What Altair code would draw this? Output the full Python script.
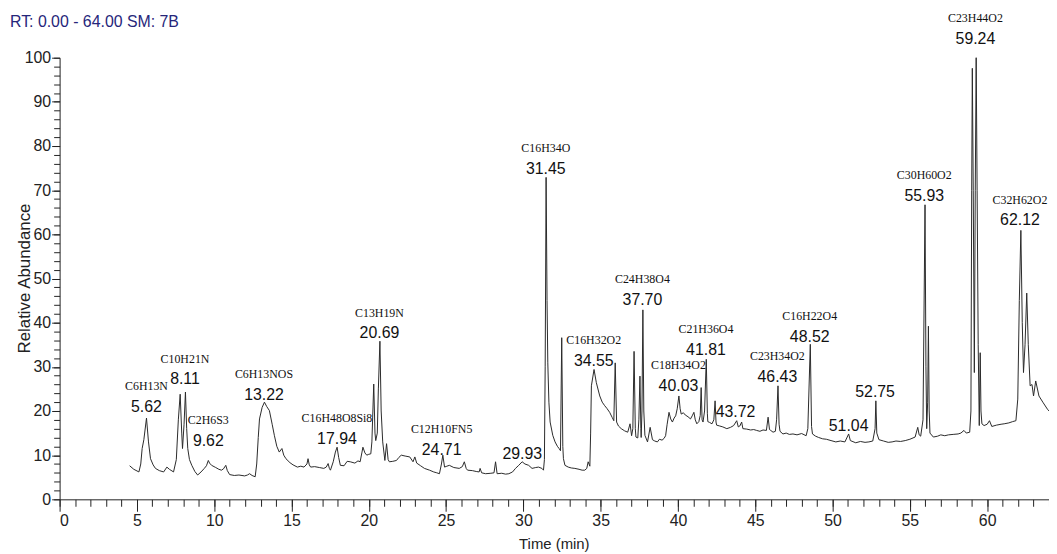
import altair as alt
import pandas as pd

# ---- chromatogram trace (retention time in min, relative abundance in %) ----
time_min = [
    4.53, 4.8, 5.13, 5.25, 5.34, 5.45, 5.62, 5.75, 5.88, 6.05, 6.2, 6.45, 6.73, 6.94, 7.1, 7.37,
    7.55, 7.68, 7.8, 7.9, 7.95, 8.05, 8.14, 8.22, 8.29, 8.4, 8.55, 8.75, 8.93, 9.15, 9.36, 9.5,
    9.62, 9.7, 9.83, 10.1, 10.3, 10.47, 10.6, 10.75, 10.85, 11.0, 11.3, 11.6, 11.97, 12.15, 12.29,
    12.45, 12.65, 12.75, 12.85, 12.93, 13.1, 13.25, 13.4, 13.57, 13.75, 13.89, 14.05, 14.21, 14.38,
    14.5, 14.64, 14.9, 15.1, 15.38, 15.6, 15.81, 16.0, 16.07, 16.15, 16.24, 16.5, 16.8, 17.09,
    17.25, 17.37, 17.45, 17.52, 17.7, 17.84, 17.95, 18.05, 18.16, 18.4, 18.6, 18.8, 19.1, 19.3,
    19.44, 19.55, 19.62, 19.75, 19.87, 20.0, 20.13, 20.2, 20.32, 20.4, 20.45, 20.55, 20.62, 20.72,
    20.8, 20.9, 21.04, 21.15, 21.25, 21.33, 21.55, 21.79, 21.95, 22.1, 22.35, 22.65, 22.86, 22.98,
    23.1, 23.35, 23.6, 23.93, 24.2, 24.4, 24.57, 24.7, 24.79, 24.9, 25.05, 25.21, 25.5, 25.85,
    26.05, 26.18, 26.3, 26.39, 26.7, 26.95, 27.14, 27.2, 27.3, 27.56, 27.9, 28.1, 28.2, 28.3, 28.6,
    28.85, 29.06, 29.3, 29.49, 29.7, 29.92, 30.1, 30.34, 30.56, 30.8, 30.98, 31.2, 31.3, 31.36,
    31.41, 31.47, 31.53, 31.58, 31.65, 31.73, 31.9, 32.05, 32.2, 32.31, 32.4, 32.48, 32.55, 32.59,
    32.69, 32.9, 33.1, 33.33, 33.6, 33.8, 33.97, 34.1, 34.19, 34.3, 34.35, 34.4, 34.57, 34.72,
    34.94, 35.1, 35.26, 35.4, 35.58, 35.75, 35.85, 35.94, 36.03, 36.15, 36.33, 36.55, 36.75, 36.9,
    37.0, 37.08, 37.16, 37.24, 37.28, 37.4, 37.47, 37.54, 37.6, 37.62, 37.67, 37.73, 37.79, 37.86,
    38.03, 38.2, 38.35, 38.5, 38.67, 38.8, 38.97, 39.1, 39.2, 39.3, 39.42, 39.53, 39.64, 39.75,
    39.85, 39.95, 40.06, 40.14, 40.21, 40.35, 40.47, 40.65, 40.81, 40.92, 41.03, 41.12, 41.22,
    41.35, 41.44, 41.5, 41.56, 41.62, 41.72, 41.83, 41.9, 41.93, 42.05, 42.2, 42.32, 42.4, 42.46,
    42.5, 42.7, 42.9, 43.16, 43.4, 43.6, 43.8, 43.9, 44.0, 44.12, 44.2, 44.45, 44.7, 44.9, 45.09,
    45.3, 45.5, 45.72, 45.83, 45.92, 46.0, 46.15, 46.3, 46.38, 46.47, 46.54, 46.6, 46.79, 47.0,
    47.2, 47.44, 47.7, 48.0, 48.29, 48.4, 48.56, 48.64, 48.7, 48.9, 49.1, 49.36, 49.6, 49.9, 50.21,
    50.5, 50.8, 51.04, 51.15, 51.5, 51.8, 52.1, 52.35, 52.6, 52.75, 52.8, 52.86, 53.0, 53.3, 53.6,
    53.85, 54.1, 54.4, 54.7, 55.0, 55.34, 55.51, 55.6, 55.7, 55.85, 55.98, 56.04, 56.09, 56.15,
    56.2, 56.25, 56.3, 56.52, 56.8, 57.0, 57.26, 57.5, 57.8, 58.12, 58.3, 58.5, 58.65, 58.87,
    58.95, 59.0, 59.04, 59.1, 59.17, 59.23, 59.29, 59.35, 59.42, 59.49, 59.55, 59.6, 59.66, 59.8,
    60.0, 60.15, 60.3, 60.6, 60.9, 61.1, 61.4, 61.65, 61.86, 61.98, 62.08, 62.18, 62.27, 62.35,
    62.45, 62.56, 62.66, 62.78, 62.9, 63.0, 63.14, 63.35, 63.6, 63.9, 64.0,
]
abundance = [
    7.6, 6.8, 6.2, 8.0, 11.5, 13.5, 18.4, 13.0, 9.2, 7.8, 7.0, 6.5, 6.2, 7.3, 6.8, 6.2,
    9.0, 18.0, 23.8, 15.0, 11.5, 17.0, 24.3, 16.0, 11.5, 9.0, 7.7, 6.3, 5.5, 6.2, 7.0, 7.6,
    8.8, 8.2, 7.7, 7.2, 6.8, 6.6, 6.9, 7.7, 6.5, 5.6, 5.4, 5.5, 5.3, 5.5, 5.8,
    5.4, 5.1, 8.0, 14.0, 18.2, 20.8, 22.0, 21.0, 20.1, 17.0, 14.5, 12.0, 10.7, 11.5,
    10.0, 9.2, 8.3, 7.8, 7.3, 7.5, 7.3, 8.0, 9.2, 7.8, 7.3, 7.4, 7.2, 7.0,
    7.3, 8.1, 7.0, 6.6, 8.5, 10.7, 11.8, 9.5, 7.7, 7.6, 8.6, 8.5, 8.2, 8.7,
    8.5, 10.5, 11.8, 10.5, 10.0, 10.2, 10.3, 13.0, 26.1, 15.0, 13.3, 15.0, 25.0, 35.8,
    20.0, 13.0, 8.8, 12.6, 9.0, 8.5, 8.6, 8.8, 9.5, 10.0, 9.8, 9.6, 8.5, 9.6,
    8.2, 7.6, 7.0, 6.6, 6.2, 6.0, 5.8, 8.0, 10.0, 7.3, 7.5, 7.7, 7.2, 7.0,
    7.4, 8.5, 7.0, 6.6, 6.5, 6.3, 6.2, 7.0, 6.0, 5.8, 5.9, 6.0, 8.5, 5.8, 5.9,
    5.7, 5.8, 6.2, 7.0, 7.7, 8.5, 8.0, 7.7, 7.0, 7.2, 7.3, 7.0, 6.6, 9.0,
    30.0, 72.9, 45.0, 30.9, 22.0, 17.5, 14.5, 13.0, 12.0, 11.5, 11.0, 36.6, 12.0, 9.2,
    7.7, 7.3, 7.1, 7.0, 6.8, 6.6, 6.6, 7.0, 8.5, 7.5, 15.0, 25.7, 29.4, 26.4,
    23.4, 22.0, 21.2, 20.6, 19.7, 18.5, 17.8, 30.9, 17.5, 16.6, 16.0, 15.5, 15.2, 17.1,
    14.4, 16.0, 33.5, 16.0, 14.1, 13.9, 18.0, 27.9, 16.0, 14.0, 20.0, 42.9, 20.0, 14.5,
    13.0, 16.3, 13.5, 13.2, 13.0, 13.6, 13.4, 13.8, 14.4, 17.0, 19.7, 18.2, 17.5, 18.4,
    18.9, 20.5, 23.4, 20.5, 19.3, 19.6, 19.1, 18.7, 18.2, 18.9, 19.7, 18.0, 17.1,
    17.6, 19.0, 25.3, 18.0, 17.5, 20.0, 31.7, 19.5, 17.6, 17.4, 17.1, 18.0, 22.3, 17.5,
    16.8, 16.6, 16.4, 16.0, 16.3, 16.7, 17.8, 16.4, 16.6, 17.5, 16.0, 15.9, 15.7, 15.8, 15.6,
    15.4, 15.7, 15.6, 18.6, 15.8, 15.6, 15.2, 15.4, 18.0, 25.7, 17.0, 15.4, 14.8, 15.0,
    14.7, 14.8, 14.6, 14.9, 14.4, 16.0, 35.1, 16.5, 14.8, 14.3, 14.0, 13.7, 13.6, 13.3, 13.0,
    13.2, 13.0, 14.8, 13.3, 12.8, 13.1, 12.9, 13.0, 13.2, 16.0, 22.3, 15.0, 13.5, 13.2, 12.9,
    13.0, 13.2, 13.1, 13.3, 13.6, 14.1, 16.3, 14.6, 14.3, 18.0, 66.7, 30.0, 16.0, 22.0,
    39.2, 20.0, 15.0, 14.1, 14.3, 14.6, 14.4, 14.6, 14.7, 14.8, 15.0, 15.6, 15.0, 15.2,
    20.0, 70.0, 97.6, 70.0, 28.7, 70.0, 100.0, 70.0, 35.0, 16.7, 33.2, 20.0, 17.1, 16.7,
    17.0, 17.8, 16.5, 16.8, 17.0, 17.1, 17.3, 17.6, 17.8, 22.7, 45.0, 60.9, 40.0, 28.7,
    35.0, 46.7, 35.0, 25.7, 26.0, 23.4, 26.8, 23.4, 22.0, 20.4, 20.0,
]

# ---- annotated peaks ----
peak_rt = [5.62, 8.11, 9.62, 13.22, 17.94, 20.69, 24.71, 29.93, 31.45, 34.55, 37.70,
           40.03, 41.81, 43.72, 46.43, 48.52, 51.04, 52.75, 55.93, 59.24, 62.12]
peak_text = ["5.62", "8.11", "9.62", "13.22", "17.94", "20.69", "24.71", "29.93", "31.45",
             "34.55", "37.70", "40.03", "41.81", "43.72", "46.43", "48.52", "51.04", "52.75",
             "55.93", "59.24", "62.12"]
peak_formula = ["C6H13N", "C10H21N", "C2H6S3", "C6H13NOS", "C16H48O8Si8", "C13H19N",
                "C12H10FN5", "", "C16H34O", "C16H32O2", "C24H38O4", "C18H34O2", "C21H36O4",
                "", "C23H34O2", "C16H22O4", "", "", "C30H60O2", "C23H44O2", "C32H62O2"]
peak_height = [18.7, 24.9, 11.0, 21.3, 11.5, 35.3, 9.0, 8.1, 72.6, 29.0, 42.9,
               23.4, 31.5, 17.5, 25.4, 34.6, 14.4, 22.0, 66.5, 102.0, 60.9]

header = ["RT: 0.00 - 64.00   SM: 7B"]

x_major = list(range(0, 61, 5))
x_minor = list(range(0, 65))
y_major = list(range(0, 101, 10))
y_minor = list(range(0, 101, 2))

trace = pd.DataFrame({"t": time_min, "a": abundance})
labels = pd.DataFrame({"rt": peak_rt, "txt": peak_text, "f": peak_formula, "h": peak_height})
head = pd.DataFrame({"h": header})

SANS = "'Liberation Sans', Arial, sans-serif"
SERIF = "'Liberation Serif', 'Times New Roman', serif"
INK = "#222222"

xs = alt.Scale(domain=[0, 64], nice=False, zero=False)
ys = alt.Scale(domain=[0, 100], nice=False)

line = alt.Chart(trace).mark_line(color="#2a2a2a", strokeWidth=1).encode(
    x=alt.X("t:Q", scale=xs, axis=alt.Axis(
        values=x_major, orient="bottom", format="d", tickSize=12, labelPadding=1,
        labelFont=SANS, labelFontSize=16, labelColor=INK, domainColor=INK, tickColor=INK,
        grid=False, title="Time (min)", titleFont=SANS, titleFontSize=15,
        titleFontWeight="normal", titleColor=INK, titleX=498, titleY=45,
        titleAlign="center", titleBaseline="middle")),
    y=alt.Y("a:Q", scale=ys, axis=alt.Axis(
        values=y_major, orient="left", format="d", tickSize=8, labelPadding=1,
        labelFont=SANS, labelFontSize=16, labelColor=INK, domainColor=INK, tickColor=INK,
        grid=False, title="Relative Abundance", titleFont=SANS, titleFontSize=17,
        titleFontWeight="normal", titleColor=INK, titleX=-35, titleY=222, titleAngle=270,
        titleAlign="center", titleBaseline="middle")),
)

minor = alt.Chart(trace).mark_line(strokeOpacity=0).encode(
    x=alt.X("t:Q", scale=xs, axis=alt.Axis(
        values=x_minor, orient="bottom", tickSize=7, labels=False, domain=False,
        tickColor=INK, grid=False, title=None)),
    y=alt.Y("a:Q", scale=ys, axis=alt.Axis(
        values=y_minor, orient="left", tickSize=6, labels=False, domain=False,
        tickColor=INK, grid=False, title=None)),
)

nums = alt.Chart(labels).mark_text(
    font=SANS, fontSize=16, dy=-10, align="center", baseline="middle", color="#111111"
).encode(
    x=alt.X("rt:Q", scale=xs, axis=None),
    y=alt.Y("h:Q", scale=ys, axis=None),
    text="txt:N",
)

forms = alt.Chart(labels).mark_text(
    font=SERIF, fontSize=12, dy=-31, align="center", baseline="middle", color="#111111"
).encode(
    x=alt.X("rt:Q", scale=xs, axis=None),
    y=alt.Y("h:Q", scale=ys, axis=None),
    text="f:N",
)

title_txt = alt.Chart(head).mark_text(
    font=SANS, fontSize=16, align="left", baseline="middle", color="#26267a"
).encode(x=alt.value(-50), y=alt.value(-36), text="h:N")

chart = alt.layer(line, minor, nums, forms, title_txt).resolve_axis(
    x="independent", y="independent"
).properties(
    width=997, height=445,
    autosize=alt.AutoSizeParams(type="none"),
    padding={"left": 52, "top": 48, "right": 0, "bottom": 52},
).configure_view(stroke=None)

chart.save("out.html", embed_options={"renderer": "svg", "actions": False})
